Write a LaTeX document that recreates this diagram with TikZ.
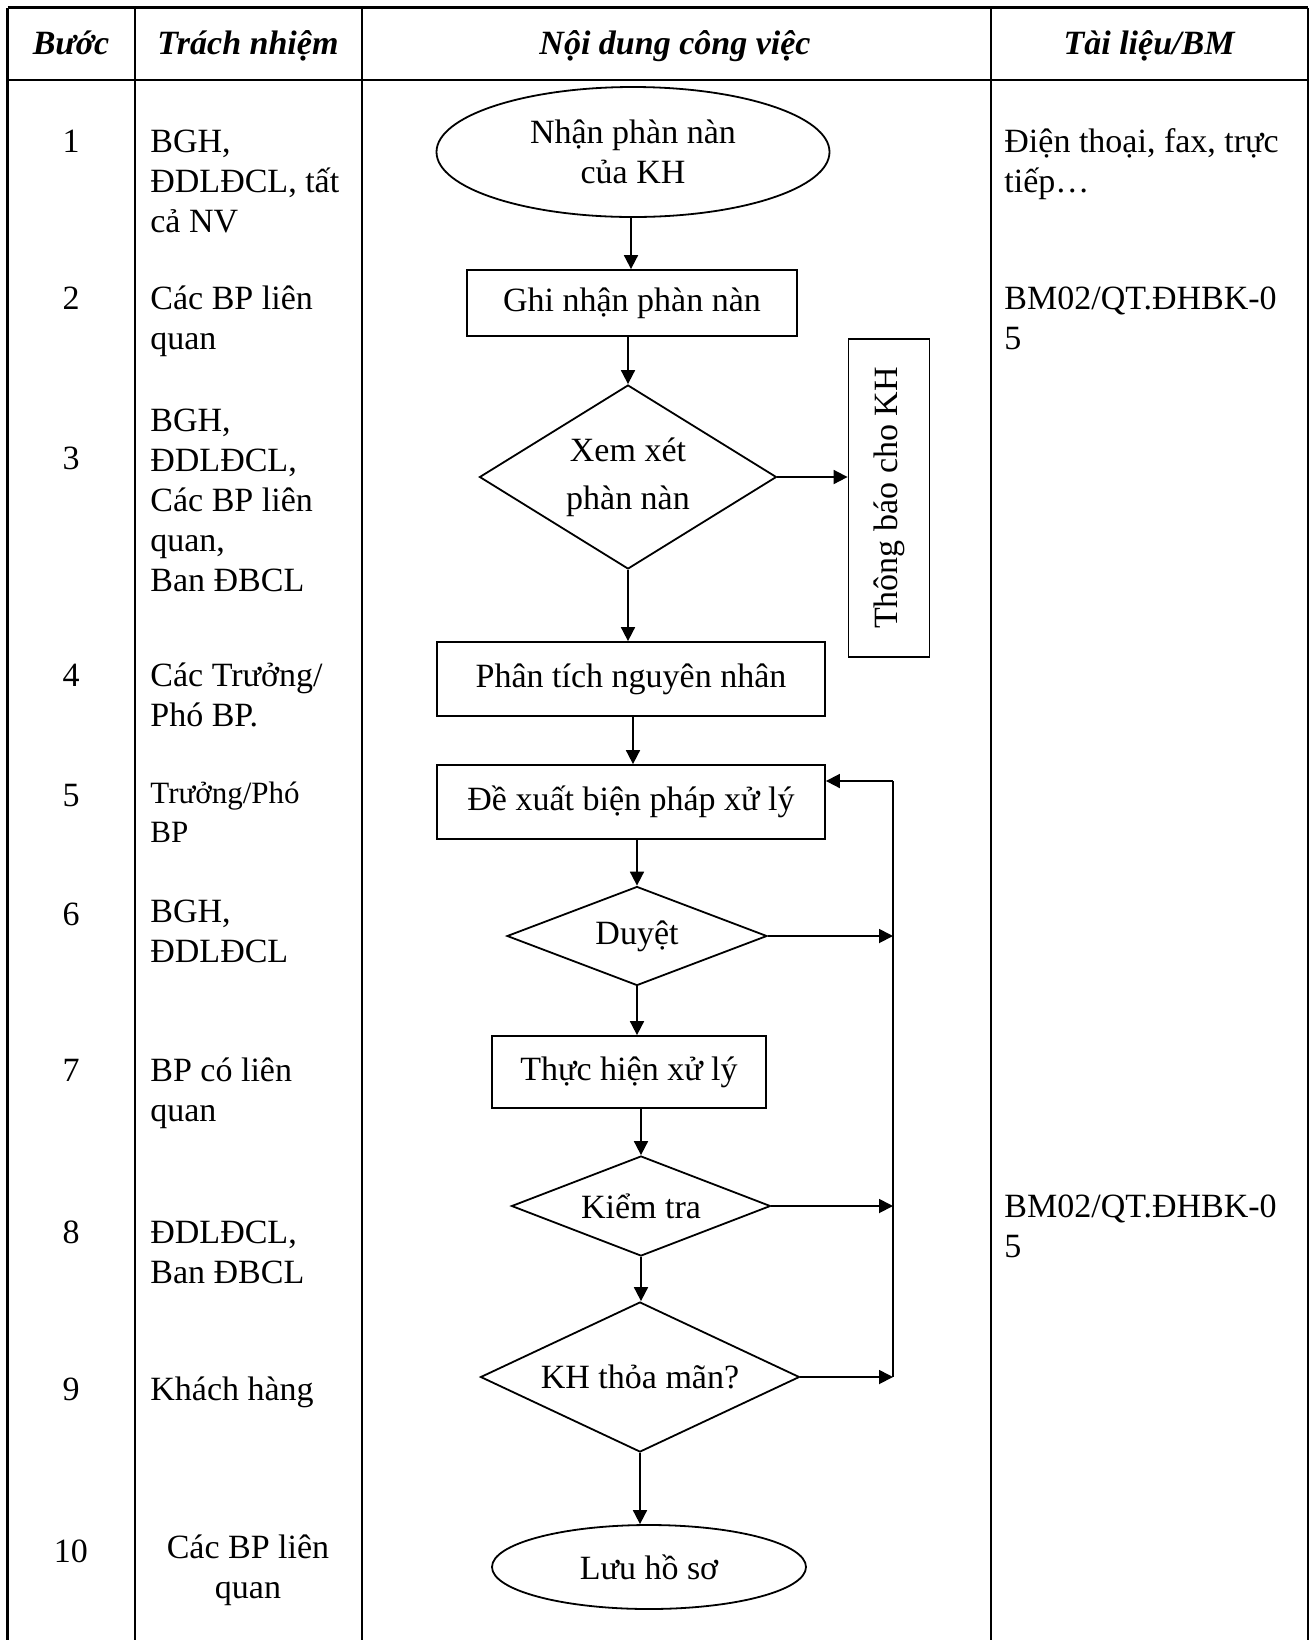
\documentclass[tikz,border=0pt]{standalone}
\usepackage{fontspec}
\setmainfont{Liberation Serif}
\usetikzlibrary{shapes.geometric,arrows.meta}
\newcommand{\tl}[1]{\begin{tabular}[t]{@{}l@{}}#1\end{tabular}}
\newcommand{\tc}[1]{\begin{tabular}[t]{@{}c@{}}#1\end{tabular}}
\begin{document}
\begin{tikzpicture}[x=0.5pt,y=-0.5pt,
  font=\fontsize{17}{20}\selectfont,
  grid/.style={line width=1.2pt},
  flow/.style={draw,line width=0.9pt,inner sep=0pt,align=center},
  boxn/.style={flow,rectangle},
  ell/.style={flow,ellipse},
  dia/.style={flow,diamond},
  arr/.style={line width=0.9pt,-{Triangle[length=7pt,width=7pt]}},
  ln/.style={line width=0.9pt},
  hd/.style={font=\fontsize{17}{20}\selectfont\bfseries\itshape,anchor=base},
  num/.style={anchor=base},
  resp/.style={anchor=base west,inner sep=0pt},
  doc/.style={anchor=base west,inner sep=0pt}]
\useasboundingbox (0,0) rectangle (1316,1640);
% table
\draw[grid] (7.5,7.5) -- (1308,7.5);
\draw[grid] (7.5,80) -- (1308,80);
\foreach \cx in {7.5,135,362,991,1308} \draw[grid] (\cx,7.5) -- (\cx,1640);
% header
\node[hd] (h1) at (71,54) {Bước};
\node[hd] (h2) at (248,54) {Trách nhiệm};
\node[hd] (h3) at (675,54) {Nội dung công việc};
\node[hd] (h4) at (1149,54) {Tài liệu/BM};
% step numbers
\node[num] (n1) at (71,152) {1};
\node[num] (n2) at (71,309) {2};
\node[num] (n3) at (71,469) {3};
\node[num] (n4) at (71,686) {4};
\node[num] (n5) at (71,806) {5};
\node[num] (n6) at (71,925) {6};
\node[num] (n7) at (71,1081) {7};
\node[num] (n8) at (71,1243) {8};
\node[num] (n9) at (71,1400) {9};
\node[num] (n10) at (71,1562) {10};
% responsibilities
\node[resp] (r1) at (150,152) {\tl{BGH,\\ĐDLĐCL, tất\\cả NV}};
\node[resp] (r2) at (150,309) {\tl{Các BP liên\\quan}};
\node[resp] (r3) at (150,431) {\tl{BGH,\\ĐDLĐCL,\\Các BP liên\\quan,\\Ban ĐBCL}};
\node[resp] (r4) at (150,686) {\tl{Các Trưởng/\\Phó BP.}};
\node[resp,font=\fontsize{15.5}{19.5}\selectfont] (r5) at (150,803) {\tl{Trưởng/Phó\\BP}};
\node[resp] (r6) at (150,922) {\tl{BGH,\\ĐDLĐCL}};
\node[resp] (r7) at (150,1081) {\tl{BP có liên\\quan}};
\node[resp] (r8) at (150,1243) {\tl{ĐDLĐCL,\\Ban ĐBCL}};
\node[resp] (r9) at (150,1400) {Khách hàng};
\node[anchor=base,inner sep=0pt] (r10) at (248,1558) {\tc{Các BP liên\\quan}};
% documents
\node[doc] (d1) at (1004,152) {\tl{Điện thoại, fax, trực\\tiếp…}};
\node[doc] (d2) at (1004,309) {\tl{BM02/QT.ĐHBK-0\\5}};
\node[doc] (d3) at (1004,1217) {\tl{BM02/QT.ĐHBK-0\\5}};
% flow nodes
\node[ell,minimum width=196.5pt,minimum height=65pt] (e1) at (633,152) {Nhận phàn nàn\\của KH};
\node[boxn,minimum width=165pt,minimum height=33pt] (ghi) at (632,303) {Ghi nhận phàn nàn};
\node[dia,aspect=1.6,minimum width=148.5pt,minimum height=92pt] (xem) at (628,477) {Xem xét\\[4pt]phàn nàn};
\node[boxn,rotate=90,minimum width=159pt,minimum height=40.5pt] (tb) at (889,498) {Thông báo cho KH};
\node[boxn,minimum width=194pt,minimum height=37pt] (pt) at (631,679) {Phân tích nguyên nhân};
\node[boxn,minimum width=194pt,minimum height=37pt] (dx) at (631,802) {Đề xuất biện pháp xử lý};
\node[dia,aspect=2.6,minimum width=130pt,minimum height=49.5pt] (du) at (637,936) {Duyệt};
\node[boxn,minimum width=137pt,minimum height=36pt] (th) at (629,1072) {Thực hiện xử lý};
\node[dia,aspect=2.6,minimum width=129.5pt,minimum height=50pt] (kt) at (641,1206) {Kiểm tra};
\node[dia,aspect=2.1,minimum width=159.5pt,minimum height=75pt] (kh) at (640,1377) {KH thỏa mãn?};
\node[ell,minimum width=157pt,minimum height=42pt] (lu) at (649,1567) {Lưu hồ sơ};
\coordinate (fbt) at (893,781);
\coordinate (fbb) at (893,1377);
% connectors
\draw[arr] (e1.south -| 631,0) -- (ghi.north -| 631,0);
\draw[arr] (ghi.south -| xem.north) -- (xem.north);
\draw[arr] (xem.east) -- (xem.east -| tb.north);
\draw[arr] (xem.south) -- (xem.south |- pt.north);
\draw[arr] (pt.south -| 633,0) -- (dx.north -| 633,0);
\draw[arr] (dx.south -| du.north) -- (du.north);
\draw[arr] (du.south) -- (du.south |- th.north);
\draw[arr] (th.south -| kt.north) -- (kt.north);
\draw[arr] (kt.south) -- (kt.south |- kh.north);
\draw[arr] (kh.south) -- (kh.south |- lu.north);
\draw[ln] (fbt) -- (fbb);
\draw[arr] (fbt) -- (fbt -| dx.east);
\draw[arr] (du.east) -- (du.east -| fbt);
\draw[arr] (kt.east) -- (kt.east -| fbt);
\draw[arr] (kh.east) -- (kh.east -| fbt);
\end{tikzpicture}
\end{document}
